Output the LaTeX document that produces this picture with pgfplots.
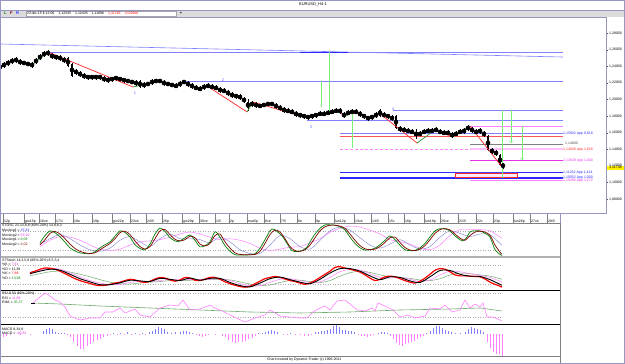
\documentclass[border=0pt]{standalone}
\usepackage{fontspec}
\setmainfont{Liberation Sans}
\usepackage{pgfplots}
\pgfplotsset{compat=1.18}
\usepackage{pgfplotstable}
\newcommand{\tf}{\fontsize{4}{4.7}\selectfont}
\newcommand{\tff}{\fontsize{3.5}{4}\selectfont}
\definecolor{lav}{RGB}{128,128,255}
\definecolor{frm}{RGB}{150,150,195}
\definecolor{zgreen}{RGB}{40,150,40}
\definecolor{zred}{RGB}{255,40,40}
\definecolor{lgreen}{RGB}{120,240,120}
\definecolor{pinkl}{RGB}{255,128,255}
\definecolor{magl}{RGB}{230,50,230}
\definecolor{bluel}{RGB}{40,40,255}
\definecolor{dred}{RGB}{128,0,0}
\definecolor{ogreen}{RGB}{0,128,0}
\definecolor{oblue}{RGB}{128,128,210}
\definecolor{sgreen}{RGB}{110,170,110}

\pgfplotstableread{
x c b w
0 1.2393 0.0018 0.0036
4 1.2417 0.0018 0.0036
8 1.2441 0.0018 0.0036
12 1.2465 0.0018 0.0036
16 1.2477 0.0018 0.0036
20 1.2453 0.0018 0.0036
24 1.2441 0.0012 0.0030
28 1.2429 0.0012 0.0030
32 1.2417 0.0018 0.0036
36 1.2465 0.0024 0.0040
40 1.2513 0.0024 0.0040
44 1.2549 0.0018 0.0036
48 1.2561 0.0018 0.0040
52 1.2525 0.0018 0.0036
56 1.2513 0.0012 0.0030
60 1.2501 0.0018 0.0036
64 1.2477 0.0018 0.0036
68 1.2453 0.0048 0.0060
72 1.2357 0.0072 0.0085
76 1.2333 0.0018 0.0036
80 1.2308 0.0018 0.0036
84 1.2284 0.0018 0.0036
88 1.2272 0.0012 0.0030
92 1.2272 0.0012 0.0030
96 1.2272 0.0012 0.0030
100 1.2272 0.0012 0.0030
104 1.2248 0.0018 0.0036
108 1.2236 0.0018 0.0036
112 1.2248 0.0012 0.0030
116 1.2260 0.0012 0.0030
120 1.2248 0.0012 0.0030
124 1.2236 0.0012 0.0030
128 1.2224 0.0012 0.0030
132 1.2212 0.0012 0.0030
136 1.2200 0.0018 0.0036
140 1.2188 0.0036 0.0050
144 1.2176 0.0018 0.0036
148 1.2188 0.0012 0.0030
152 1.2212 0.0018 0.0036
156 1.2224 0.0012 0.0030
160 1.2224 0.0012 0.0030
164 1.2200 0.0018 0.0036
168 1.2188 0.0012 0.0030
172 1.2176 0.0012 0.0030
176 1.2164 0.0012 0.0030
180 1.2188 0.0018 0.0036
184 1.2212 0.0012 0.0030
188 1.2188 0.0018 0.0036
192 1.2164 0.0018 0.0036
196 1.2140 0.0012 0.0030
200 1.2128 0.0012 0.0030
204 1.2152 0.0018 0.0036
208 1.2164 0.0012 0.0030
212 1.2152 0.0012 0.0030
216 1.2140 0.0012 0.0030
220 1.2116 0.0018 0.0036
224 1.2104 0.0012 0.0030
228 1.2080 0.0018 0.0036
232 1.2055 0.0018 0.0036
236 1.2043 0.0012 0.0030
240 1.2031 0.0018 0.0036
244 1.1995 0.0018 0.0036
248 1.1935 0.0036 0.0072
252 1.1947 0.0024 0.0040
256 1.1935 0.0018 0.0036
260 1.1923 0.0012 0.0030
264 1.1935 0.0012 0.0030
268 1.1947 0.0012 0.0030
272 1.1947 0.0012 0.0030
276 1.1923 0.0018 0.0036
280 1.1899 0.0018 0.0036
284 1.1875 0.0018 0.0036
288 1.1863 0.0012 0.0030
292 1.1851 0.0012 0.0030
296 1.1827 0.0018 0.0036
300 1.1814 0.0012 0.0030
304 1.1802 0.0012 0.0030
308 1.1790 0.0012 0.0030
312 1.1802 0.0012 0.0030
316 1.1814 0.0012 0.0030
320 1.1827 0.0012 0.0030
324 1.1827 0.0012 0.0030
328 1.1839 0.0012 0.0030
332 1.1851 0.0012 0.0030
336 1.1863 0.0012 0.0030
340 1.1863 0.0018 0.0036
344 1.1814 0.0024 0.0040
348 1.1839 0.0012 0.0030
352 1.1851 0.0012 0.0030
356 1.1851 0.0012 0.0030
360 1.1827 0.0018 0.0036
364 1.1802 0.0012 0.0030
368 1.1778 0.0012 0.0030
372 1.1790 0.0012 0.0030
376 1.1814 0.0018 0.0036
380 1.1839 0.0036 0.0050
384 1.1814 0.0018 0.0036
388 1.1802 0.0012 0.0030
392 1.1778 0.0018 0.0036
396 1.1730 0.0072 0.0085
400 1.1646 0.0018 0.0036
404 1.1634 0.0012 0.0030
408 1.1622 0.0012 0.0030
412 1.1610 0.0012 0.0030
416 1.1586 0.0018 0.0060
420 1.1586 0.0012 0.0030
424 1.1610 0.0012 0.0030
428 1.1622 0.0012 0.0030
432 1.1622 0.0012 0.0030
436 1.1634 0.0012 0.0030
440 1.1610 0.0012 0.0030
444 1.1598 0.0012 0.0030
448 1.1598 0.0012 0.0030
452 1.1573 0.0018 0.0036
456 1.1586 0.0012 0.0030
460 1.1610 0.0012 0.0030
464 1.1622 0.0018 0.0036
468 1.1658 0.0024 0.0040
472 1.1634 0.0018 0.0036
476 1.1610 0.0012 0.0030
480 1.1622 0.0018 0.0036
484 1.1586 0.0018 0.0036
488 1.1477 0.0084 0.0095
492 1.1381 0.0018 0.0036
496 1.1357 0.0018 0.0036
500 1.1272 0.0060 0.0070
503 1.1204 0.0029 0.0037
}\candles

\pgfplotsset{panel/.style={scale only axis, anchor=north west, width=560pt, xmin=0, xmax=560,
  xtick=\empty, ytick=\empty, axis line style={draw=gray, line width=0.4pt}, clip=true},
  lvl/.style={gray!65, line width=0.3pt, dash pattern=on 1pt off 1.5pt}}

\begin{document}
\begin{tikzpicture}
\path[use as bounding box] (0pt,0pt) rectangle (625pt,-364pt);
\fill[white] (0pt,0pt) rectangle (625pt,-364pt);
% title and toolbar
\node[font=\tf] at (313pt,-5pt) {EURUSD\_H4-1};
\fill[gray!28] (0pt,-10pt) rectangle (625pt,-17pt);
\draw[frm, line width=0.4pt] (0pt,-10pt) -- (625pt,-10pt);
\node[font=\tf\bfseries, text=ogreen, anchor=west, inner sep=0pt] at (4pt,-13.5pt) {L};
\node[font=\tf\bfseries, text=dred, anchor=west, inner sep=0pt] at (10pt,-13.5pt) {F};
\node[font=\tf\bfseries, text=bluel, anchor=west, inner sep=0pt] at (16pt,-13.5pt) {R};
\draw[fill=white, draw=gray!70, line width=0.3pt] (26pt,-11pt) rectangle (176pt,-16.2pt);
\node[font=\tff, anchor=west, inner sep=0pt] at (27pt,-13.6pt) {23-dic-15 ft 12:00\hspace{4pt}1,12335\hspace{4pt}1,12435\hspace{4pt}1,11696\hspace{4pt}\textcolor{red}{1,11746\hspace{4pt}-0,01906}};
\node[font=\tf\bfseries, inner sep=0pt] at (181pt,-13.5pt) {+};

% ---------------- main price panel ----------------
\begin{axis}[scale only axis, anchor=north west, at={(0pt,-17pt)}, width=606pt, height=196pt,
  xmin=0, xmax=606, ymin=1.06337, ymax=1.29952, xtick=\empty,
  ytick={1.08,1.10,1.12,1.14,1.16,1.18,1.20,1.22,1.24,1.26,1.28},
  yticklabels={{1,08000},{1,10000},{1,12000},{1,14000},{1,16000},{1,18000},{1,20000},{1,22000},{1,24000},{1,26000},{1,28000}},
  ytick pos=right, yticklabel pos=right, tick align=outside, major tick length=2pt,
  y tick label style={font=\tff, inner sep=1pt},
  tick style={draw=gray!60!black, line width=0.3pt},
  axis line style={draw=frm, line width=0.5pt}, clip=true]
% trend lines
\addplot[lav, line width=0.6pt] coordinates {(0,1.2670) (563,1.2513)};
\addplot[lav, line width=0.6pt] coordinates {(48,1.2573) (563,1.2573)};
\addplot[bluel, line width=0.7pt] coordinates {(300,1.2573) (348,1.2573)};
\addplot[lav, line width=0.6pt] coordinates {(182,1.2224) (563,1.2224)};
\addplot[lav, line width=0.6pt] coordinates {(393,1.1875) (563,1.1875)};
\addplot[lav, line width=0.6pt] coordinates {(307,1.1754) (563,1.1754)};
\addplot[pinkl, line width=0.6pt] coordinates {(470,1.1682) (563,1.1682)};
\addplot[bluel!60, line width=0.6pt] coordinates {(340,1.15932) (563,1.15932)};
\addplot[zred!80, line width=0.6pt] coordinates {(340,1.1561) (563,1.1561)};
\addplot[gray, line width=0.5pt] coordinates {(470,1.14600) (563,1.14600)};
\addplot[pinkl!50, line width=1.8pt] coordinates {(470,1.14028) (563,1.14028)};
\addplot[pinkl, line width=0.5pt, densely dashed] coordinates {(340,1.14028) (470,1.14028)};
\addplot[magl, line width=0.5pt] coordinates {(470,1.12639) (563,1.12639)};
\addplot[bluel, line width=1.2pt] coordinates {(340,1.11232) (563,1.11232)};
\addplot[bluel, line width=1.2pt] coordinates {(340,1.10552) (563,1.10552)};
\addplot[pinkl, line width=0.5pt] coordinates {(470,1.10290) (563,1.10290)};
\addplot[draw=zred, fill=pinkl!15, line width=0.5pt] coordinates {(455,1.1116) (517,1.1116) (517,1.1060) (455,1.1060) (455,1.1116)};
% green verticals
\addplot[lgreen, line width=0.6pt] coordinates {(321,1.2224) (321,1.1911)};
\addplot[lgreen, line width=0.6pt] coordinates {(329,1.2573) (329,1.1839)};
\addplot[lgreen, line width=0.6pt] coordinates {(352,1.1875) (352,1.1417)};
\addplot[lgreen, line width=0.6pt] coordinates {(502,1.1875) (502,1.1055)};
\addplot[lgreen, line width=0.6pt, ->] coordinates {(511,1.1875) (511,1.1477)};
\addplot[lgreen, line width=0.6pt, ->] coordinates {(522,1.1682) (522,1.1272)};
% candles
\addplot[only marks, mark=none, black, error bars/.cd, y dir=both, y explicit, error mark=none,
  error bar style={line width=0.3pt, black}] table[x=x, y=c, y error=w] {\candles};
\addplot[only marks, mark=none, black, error bars/.cd, y dir=both, y explicit, error mark=none,
  error bar style={line width=1.1pt, black}] table[x=x, y=c, y error=b] {\candles};
% zigzag
\addplot[zgreen, line width=0.7pt, unbounded coords=jump] coordinates {
 (0,1.2393) (15,1.2477) (15,nan) (32,1.2417) (48,1.2573) (48,nan)
 (133,1.2152) (160,1.2224) (160,nan) (177,1.2164) (183,1.2212) (183,nan)
 (200,1.2128) (207,1.2164) (207,nan) (247,1.1851) (253,1.1971) (253,nan)
 (307,1.1778) (340,1.1863) (340,nan) (344,1.1790) (355,1.1863) (355,nan)
 (372,1.1766) (379,1.1839) (379,nan) (417,1.1477) (435,1.1634) (435,nan)
 (453,1.1549) (470,1.1682)};
\addplot[zred, line width=0.7pt, unbounded coords=jump] coordinates {
 (15,1.2477) (32,1.2417) (32,nan) (48,1.2573) (133,1.2152) (133,nan)
 (160,1.2224) (177,1.2164) (177,nan) (183,1.2212) (200,1.2128) (200,nan)
 (207,1.2164) (247,1.1851) (247,nan) (253,1.1971) (307,1.1778) (307,nan)
 (340,1.1863) (344,1.1790) (344,nan) (355,1.1863) (372,1.1766) (372,nan)
 (379,1.1839) (417,1.1477) (417,nan) (435,1.1634) (453,1.1549) (453,nan)
 (470,1.1682) (502,1.1188)};
% labels
\node[font=\tf, text=lav!80!blue, inner sep=0pt] at (axis cs:135,1.2080) {1};
\node[font=\tf, text=lav!80!blue, inner sep=0pt] at (axis cs:223,1.2236) {2};
\node[font=\tf, text=lav!80!blue, inner sep=0pt] at (axis cs:311,1.1670) {3};
\node[font=\tf, text=lav!80!blue, inner sep=0pt] at (axis cs:393,1.1887) {4};
\node[font=\tff, text=bluel, anchor=west, inner sep=0pt] at (axis cs:563,1.15932) {1,15932 App 0,618};
\node[font=\tff, text=black!70, anchor=west, inner sep=0pt] at (axis cs:565,1.14700) {1,14600};
\node[font=\tff, text=zred, anchor=west, inner sep=0pt] at (axis cs:563,1.14028) {1,14028 App 1,618};
\node[font=\tff, text=magl, anchor=west, inner sep=0pt] at (axis cs:563,1.12639) {1,12639 App 1,000};
\node[font=\tff, text=bluel, anchor=west, inner sep=0pt] at (axis cs:563,1.11232) {1,11232 App 1,414};
\node[font=\tff, text=bluel, anchor=west, inner sep=0pt] at (axis cs:563,1.10600) {1,10552 App 1,000};
\node[font=\tff, text=magl, anchor=west, inner sep=0pt] at (axis cs:563,1.10190) {1,10290 App 1,272};
\end{axis}
\node[fill=yellow, font=\tff, inner sep=0.6pt, minimum width=17pt] at (615.5pt,-168pt) {1,11746};

% ---------------- STOSC ----------------
\begin{axis}[panel, at={(0pt,-223pt)}, height=33pt, ymin=0, ymax=105,
  xtick={3,24,39,55,73,92,112,130,146,162,182,199,215,229,247,264,280,297,315,334,354,371,388,404,424,440,458,476,493,513,530,547},
  xticklabels={12p,gio15p,16ve,17/1,18e,19p,gio22p,23ve,24/5,26p,gio29p,30ve,1/5,2p,mar5p,6ve,7/5,8e,9p,lun12p,13ve,14/5,15c,16p,lun19p,20ve,21/5,22c,23p,lun26p,27ve,28/5},
  xtick pos=right, xticklabel pos=right, tick align=outside, major tick length=9pt,
  tick style={draw=gray, line width=0.3pt},
  x tick label style={font=\tff, anchor=south west, inner sep=0.4pt, xshift=0.6pt, yshift=-9.5pt}]
\addplot[lvl] coordinates {(0,80) (502,80)};
\addplot[lvl] coordinates {(0,20) (502,20)};
\addplot[pinkl, line width=0.5pt, smooth] coordinates {(40,30)(50,50)(60,62)(70,60)(80,50)(90,35)(100,22)(110,18)(120,22)(130,35)(140,45)(150,48)(160,52)(170,60)(180,70)(190,76)(200,70)(210,60)(220,52)(230,55)(240,50)(250,40)(260,25)(270,18)(280,22)(290,28)(300,30)(310,42)(320,55)(330,75)(340,88)(350,95)(360,92)(370,82)(380,70)(390,52)(400,46)(410,38)(420,25)(430,20)(440,35)(450,65)(460,84)(470,85)(480,84)(490,80)(500,60)(502,57)};
\addplot[oblue, line width=0.4pt, smooth] coordinates {(40,38)(50,55)(60,68)(70,55)(80,35)(90,20)(100,15)(110,25)(120,50)(130,62)(140,45)(150,30)(160,55)(170,70)(180,55)(190,55)(200,52)(210,42)(220,60)(230,45)(240,20)(250,8)(260,8)(270,35)(280,65)(290,55)(300,30)(310,22)(320,50)(330,80)(340,92)(350,82)(360,58)(370,35)(380,25)(390,38)(400,52)(410,35)(420,22)(430,30)(440,60)(450,80)(460,72)(470,62)(480,70)(490,68)(500,40)(502,35)};
\addplot[ogreen, line width=0.7pt, smooth] coordinates {(40,42)(45,65)(50,80)(55,74)(60,61)(65,44)(70,26)(75,16)(80,10)(85,8)(90,7)(95,14)(100,26)(105,36)(110,45)(115,63)(120,80)(125,75)(130,60)(135,36)(140,24)(145,20)(150,38)(155,70)(160,89)(165,78)(170,58)(175,48)(178,45)(185,58)(190,67)(195,50)(200,29)(205,33)(210,45)(215,77)(220,60)(225,33)(230,15)(235,4)(240,3)(245,3)(250,4)(255,7)(260,25)(265,52)(270,80)(273,86)(277,78)(282,64)(287,40)(292,17)(297,14)(302,17)(307,28)(310,45)(315,70)(320,88)(325,99)(330,99)(335,98)(340,93)(345,83)(350,60)(355,40)(360,26)(365,19)(370,20)(375,25)(380,36)(385,50)(390,64)(395,52)(400,34)(405,20)(410,17)(415,18)(420,26)(425,40)(430,61)(435,80)(440,87)(445,86)(450,80)(455,64)(460,52)(463,48)(467,60)(470,77)(475,80)(480,80)(485,72)(490,60)(495,20)(500,5)(502,2)};
\addplot[dred, line width=0.7pt, smooth] coordinates {(40,35)(45,52)(50,72)(55,78)(60,70)(65,55)(70,38)(75,24)(80,15)(85,10)(90,8)(95,10)(100,20)(105,30)(110,40)(115,55)(120,74)(125,79)(130,68)(135,48)(140,30)(145,22)(150,30)(155,55)(160,80)(165,84)(170,68)(175,53)(180,48)(185,52)(190,63)(195,58)(200,38)(205,32)(210,40)(215,65)(220,70)(225,45)(230,25)(235,10)(240,5)(245,4)(250,4)(255,5)(260,15)(265,40)(270,68)(275,83)(280,76)(285,55)(290,30)(295,17)(300,15)(305,20)(310,35)(315,58)(320,80)(325,93)(330,98)(335,98)(340,95)(345,88)(350,70)(355,50)(360,33)(365,23)(370,20)(375,22)(380,30)(385,43)(390,58)(395,60)(400,43)(405,27)(410,19)(415,17)(420,22)(425,33)(430,52)(435,72)(440,84)(445,87)(450,83)(455,70)(460,57)(465,50)(470,65)(475,76)(480,79)(485,76)(490,66)(495,35)(500,12)(502,6)};
\end{axis}
\node[font=\tff, anchor=west, inner sep=0pt, align=left] at (2pt,-226pt) {STOSC 21,13,8,8 (80\%-20\%) 14,8,8,3};
\node[font=\tff, anchor=west, inner sep=0pt] at (2pt,-231pt) {MovAvg1 = \textcolor{bluel}{15,81}};
\node[font=\tff, anchor=west, inner sep=0pt] at (2pt,-235.5pt) {MovAvg2 = \textcolor{magl}{53,92}};
\node[font=\tff, anchor=west, inner sep=0pt] at (2pt,-240pt) {MovAvg1 = \textcolor{ogreen}{8,08}};
\node[font=\tff, anchor=west, inner sep=0pt] at (2pt,-244.5pt) {MovAvg2 = \textcolor{dred}{2,02}};
\draw[frm, line width=0.4pt] (560pt,-213pt) -- (560pt,-223pt);

% ---------------- STStoch ----------------
\begin{axis}[panel, at={(0pt,-257pt)}, height=33pt, ymin=0, ymax=105]
\addplot[lvl] coordinates {(0,80) (502,80)};
\addplot[lvl] coordinates {(0,20) (502,20)};
\addplot[sgreen, line width=0.5pt, smooth] coordinates {(30,45)(40,52)(50,58)(60,60)(70,57)(80,50)(90,42)(100,33)(110,25)(120,20)(130,19)(140,22)(150,25)(160,27)(170,30)(180,31)(190,31)(200,32)(210,33)(220,34)(230,32)(240,26)(250,19)(260,15)(270,16)(280,24)(290,30)(300,31)(310,27)(320,24)(330,30)(340,44)(350,55)(360,60)(370,56)(380,48)(390,42)(400,40)(410,37)(420,32)(430,30)(440,36)(450,48)(460,54)(470,52)(480,48)(490,44)(500,36)(502,34)};
\addplot[pinkl, line width=0.5pt, smooth] coordinates {(30,50)(40,62)(50,70)(60,66)(70,55)(80,42)(90,30)(100,22)(110,17)(120,18)(130,24)(140,28)(150,27)(160,30)(170,34)(180,32)(190,33)(200,34)(210,34)(220,36)(230,30)(240,20)(250,13)(260,14)(270,24)(280,34)(290,36)(300,30)(310,24)(320,26)(330,40)(340,58)(350,66)(360,63)(370,52)(380,40)(390,38)(400,40)(410,34)(420,27)(430,32)(440,48)(450,60)(460,58)(470,52)(480,47)(490,40)(500,28)(502,25)};
\addplot[red, line width=1.2pt, smooth] coordinates {(30,55)(35,60)(40,66)(45,70)(50,69)(55,66)(60,60)(65,52)(70,44)(75,36)(80,30)(85,25)(90,21)(95,16)(100,14)(105,15)(110,18)(115,22)(120,25)(125,30)(130,34)(135,32)(140,27)(145,24)(150,28)(155,35)(160,40)(165,38)(170,32)(175,28)(180,32)(185,40)(190,38)(195,31)(200,30)(205,35)(210,40)(215,40)(220,34)(225,26)(230,20)(235,15)(240,11)(245,9)(250,12)(255,20)(260,28)(265,36)(270,40)(275,43)(280,40)(285,35)(290,30)(295,27)(300,22)(305,18)(310,22)(315,30)(320,40)(325,50)(330,60)(335,72)(340,74)(345,70)(350,66)(355,62)(360,57)(365,48)(370,38)(375,30)(380,34)(385,42)(390,44)(395,42)(400,36)(405,30)(410,25)(415,22)(420,28)(425,38)(430,50)(435,63)(440,68)(445,66)(450,58)(455,48)(460,45)(465,45)(470,44)(475,43)(480,42)(485,35)(490,25)(495,18)(500,12)(502,9)};
\addplot[black, line width=0.9pt, smooth] coordinates {(30,52)(40,60)(50,66)(60,63)(70,50)(80,36)(90,26)(100,17)(110,17)(120,23)(130,31)(140,29)(150,27)(160,37)(170,34)(180,30)(190,38)(200,31)(210,37)(220,37)(230,24)(240,14)(250,10)(260,22)(270,36)(280,41)(290,33)(300,25)(310,20)(320,34)(330,54)(340,68)(350,68)(360,60)(370,45)(380,33)(390,42)(400,40)(410,29)(420,24)(430,42)(440,62)(450,62)(460,50)(470,44)(480,43)(490,33)(500,18)(502,15)};
\end{axis}
\node[font=\tff, anchor=west, inner sep=0pt] at (2pt,-260.5pt) {STStoch 14,3,5,8 (80\%-20\%) 8,5,3,4};
\node[font=\tff, anchor=west, inner sep=0pt] at (2pt,-265pt) {\%K = \textcolor{magl}{7,61}};
\node[font=\tff, anchor=west, inner sep=0pt] at (2pt,-269.5pt) {\%D = 11,38};
\node[font=\tff, anchor=west, inner sep=0pt] at (2pt,-274pt) {\%K = \textcolor{red}{7,88}};
\node[font=\tff, anchor=west, inner sep=0pt] at (2pt,-278.5pt) {\%D = \textcolor{ogreen}{13,98}};
\fill[gray!60] (0pt,-255.7pt) rectangle (560pt,-258pt);

% ---------------- RSI ----------------
\begin{axis}[panel, at={(0pt,-290pt)}, height=34pt, ymin=2.5, ymax=87.5]
\addplot[lvl] coordinates {(0,80) (502,80)};
\addplot[lvl] coordinates {(0,20) (502,20)};
\addplot[sgreen, line width=0.6pt] coordinates {(33,55)(60,52.5)(100,47.5)(150,42.5)(200,37.5)(250,32.5)(300,30)(350,32.5)(400,37.5)(450,40)(480,42.5)(502,35)};
\addplot[pinkl, line width=0.6pt] coordinates {(33,55)(40,70)(45,80)(50,72.5)(55,62.5)(60,57.5)(65,45)(70,22.5)(75,17.5)(80,12.5)(90,17.5)(100,17.5)(105,32.5)(113,32.5)(120,42.5)(125,30)(135,40)(140,25)(150,20)(160,42.5)(170,50)(178,47.5)(183,62.5)(190,37.5)(200,40)(210,50)(215,42.5)(220,37.5)(230,25)(245,7.5)(255,17.5)(265,25)(270,37.5)(280,22.5)(290,20)(300,17.5)(307,17.5)(313,32.5)(320,42.5)(325,47.5)(330,37.5)(337,60)(345,62.5)(350,52.5)(357,37.5)(365,35)(372,42.5)(375,35)(378,55)(385,47.5)(393,37.5)(400,20)(408,25)(415,17.5)(425,22.5)(430,42.5)(440,40)(445,50)(452,32.5)(460,37.5)(465,62.5)(470,42.5)(475,52.5)(480,45)(483,55)(487,20)(493,20)(500,12.5)(502,10)};
\addplot[black, line width=0.8pt] coordinates {(31,55)(35,55)};
\end{axis}
\node[font=\tff, anchor=west, inner sep=0pt] at (2pt,-294pt) {RSI 8,50 (80\%-20\%)};
\node[font=\tff, anchor=west, inner sep=0pt] at (2pt,-298.5pt) {RSI = \textcolor{magl}{11,88}};
\node[font=\tff, anchor=west, inner sep=0pt] at (2pt,-303pt) {EMA = \textcolor{ogreen}{35,37}};
\draw[black, line width=0.6pt] (0pt,-290pt) -- (560pt,-290pt);

% ---------------- MACD ----------------
\begin{axis}[panel, at={(0pt,-324pt)}, height=32pt, ymin=-22, ymax=10]
\addplot[lav, ycomb, line width=0.7pt] coordinates {(43,3)(46,5)(49,6)(52,5)(55,2)(58,1)(61,1)(64,1)(113,1)(120,1)(127,2)(135,1)(142,1)(149,2)(152,3)(155,5)(158,7)(161,6)(164,5)(167,2)(171,1)(175,2)(180,2)(183,3)(186,3)(189,2)(192,1)(258,1)(262,1)(265,2)(268,3)(271,4)(274,3)(277,2)(290,1)(315,2)(318,2)(321,3)(324,3)(327,4)(330,5)(333,8)(336,9)(339,7)(342,4)(345,4)(348,3)(351,3)(354,2)(378,1)(381,2)(384,2)(387,1)(426,1)(430,3)(433,6)(436,8)(439,8)(442,6)(445,4)(448,3)(451,2)(455,1)(460,1)(465,2)(468,5)(471,7)(474,6)(477,5)(480,4)(483,2)};
\addplot[pinkl, ycomb, line width=0.7pt] coordinates {(3,-3)(6,-2)(10,-1)(20,-1)(30,-1)(67,-1)(70,-3)(73,-8)(77,-12)(80,-15)(83,-15)(87,-12)(90,-10)(93,-8)(97,-6)(100,-5)(103,-3)(107,-2)(110,-1)(117,-1)(124,-1)(131,-1)(139,-1)(145,-1)(196,-1)(199,-2)(202,-3)(205,-2)(208,-1)(215,-1)(222,-2)(225,-3)(228,-6)(232,-8)(235,-9)(238,-8)(242,-8)(245,-7)(248,-5)(252,-4)(255,-2)(283,-1)(287,-1)(295,-1)(300,-1)(304,-2)(308,-2)(311,-1)(358,-1)(361,-2)(364,-2)(367,-3)(370,-2)(373,-1)(390,-2)(393,-5)(396,-9)(399,-11)(402,-12)(405,-10)(408,-9)(411,-8)(414,-7)(417,-5)(420,-3)(423,-2)(487,-8)(490,-14)(493,-18)(496,-20)(499,-20)(502,-22)};
\end{axis}
\node[font=\tff, anchor=west, inner sep=0pt] at (2pt,-329.5pt) {MACD 8,34,8};
\node[font=\tff, anchor=west, inner sep=0pt] at (2pt,-334pt) {MACD = \textcolor{magl}{-40,81}};
\draw[black, line width=0.6pt] (0pt,-324pt) -- (560pt,-324pt);
\draw[gray, line width=0.4pt] (560pt,-356pt) -- (560pt,-364pt);
\node[font=\tff, anchor=west, inner sep=0pt] at (267pt,-360pt) {Chart created by Dynamic Trader (c) 1996-2011};
% outer frame
\draw[frm, line width=0.6pt] (0.3pt,-0.3pt) rectangle (624.7pt,-363.7pt);
\end{tikzpicture}
\end{document}
